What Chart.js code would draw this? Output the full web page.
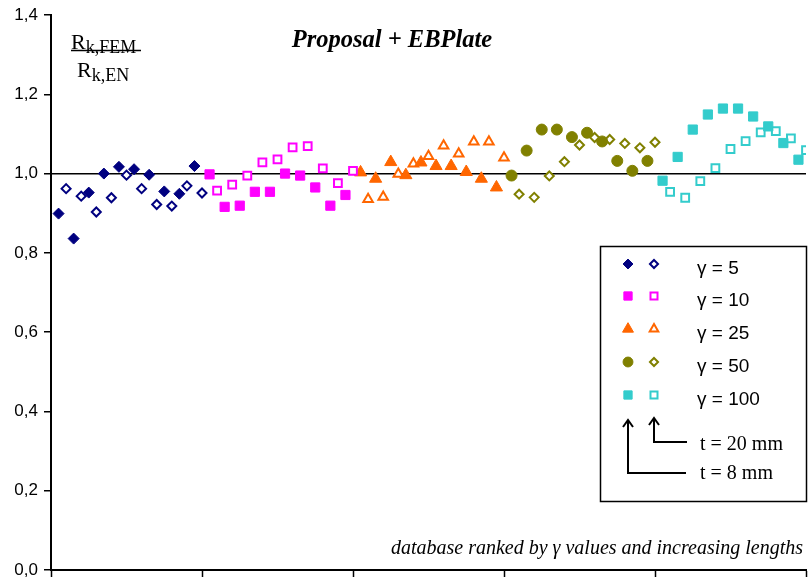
<!DOCTYPE html>
<html>
<head>
<meta charset="utf-8">
<script src="https://cdn.jsdelivr.net/npm/chart.js@4"></script>
<style>
  body { margin: 0; background: #fff; }
</style>
</head>
<body>
<canvas id="myChart" width="808" height="580"></canvas>
<script>
// gamma groups, each with 10 specimens at t = 8 mm and 10 at t = 20 mm
const gammas = [5, 10, 25, 50, 100];

const g5_t8   = [0.899, 0.836, 0.952, 1.000, 1.017, 1.011, 0.997, 0.955, 0.949, 1.019];
const g5_t20  = [0.962, 0.943, 0.903, 0.939, 0.996, 0.962, 0.922, 0.918, 0.969, 0.951];
const g10_t8  = [0.998, 0.916, 0.919, 0.954, 0.954, 1.000, 0.995, 0.965, 0.919, 0.946];
const g10_t20 = [0.957, 0.972, 0.995, 1.028, 1.036, 1.066, 1.069, 1.013, 0.976, 1.007];
const g25_t8  = [1.003, 0.987, 1.029, 0.996, 1.028, 1.019, 1.019, 1.004, 0.987, 0.965];
const g25_t20 = [0.935, 0.941, 0.999, 1.025, 1.044, 1.070, 1.050, 1.080, 1.080, 1.040];
const g50_t8  = [0.995, 1.058, 1.111, 1.111, 1.092, 1.103, 1.081, 1.032, 1.007, 1.032];
const g50_t20 = [0.948, 0.940, 0.994, 1.030, 1.072, 1.091, 1.086, 1.076, 1.065, 1.079];
const g100_t8  = [0.982, 1.042, 1.111, 1.149, 1.164, 1.164, 1.144, 1.119, 1.077, 1.035];
const g100_t20 = [0.954, 0.939, 0.981, 1.014, 1.062, 1.082, 1.104, 1.107, 1.089, 1.059];

const yTicks = [0, 0.2, 0.4, 0.6, 0.8, 1.0, 1.2, 1.4];

const t8Series  = [g5_t8, g10_t8, g25_t8, g50_t8, g100_t8];
const t20Series = [g5_t20, g10_t20, g25_t20, g50_t20, g100_t20];

// marker look per gamma group
const colors = ['#000080', '#ff00ff', '#ff6600', '#808000', '#33cccc'];
const filledStyle = [
  { pointStyle: 'rectRot', radius: 5.5 },
  { pointStyle: 'rect', radius: 6.5 },
  { pointStyle: 'triangle', radius: 7 },
  { pointStyle: 'circle', radius: 5.5 },
  { pointStyle: 'rect', radius: 6.5 }
];
const hollowStyle = [
  { pointStyle: 'rectRot', radius: 4.5 },
  { pointStyle: 'rect', radius: 5.5 },
  { pointStyle: 'triangle', radius: 5.5 },
  { pointStyle: 'rectRot', radius: 4.5 },
  { pointStyle: 'rect', radius: 5.5 }
];

// specimens are ranked: within a group t=8 and t=20 alternate
function rankPoints(values, group, offset) {
  return values.map((v, k) => ({ x: group * 20 + offset + 2 * k, y: v }));
}

const datasets = [];
gammas.forEach((g, i) => {
  datasets.push({
    label: 'γ = ' + g + ' (t = 8 mm)',
    data: rankPoints(t8Series[i], i, 1),
    pointStyle: filledStyle[i].pointStyle,
    pointRadius: filledStyle[i].radius,
    backgroundColor: colors[i],
    borderColor: colors[i],
    borderWidth: 1
  });
  datasets.push({
    label: 'γ = ' + g + ' (t = 20 mm)',
    data: rankPoints(t20Series[i], i, 2),
    pointStyle: hollowStyle[i].pointStyle,
    pointRadius: hollowStyle[i].radius,
    backgroundColor: '#ffffff',
    borderColor: colors[i],
    borderWidth: 2
  });
});

// texts and legend box drawn on top of the chart
const decorations = {
  id: 'decorations',
  afterDraw(chart) {
    const c = chart.ctx;
    c.save();
    c.fillStyle = '#000';
    c.textBaseline = 'alphabetic';

    // title
    c.font = 'bold italic 24.5px "Liberation Serif", "Times New Roman", serif';
    c.textAlign = 'center';
    c.fillText('Proposal + EBPlate', 392, 47);

    // ratio label
    c.textAlign = 'left';
    c.font = '22px "Liberation Serif", serif';
    c.fillText('R', 71, 49);
    let w = c.measureText('R').width;
    c.font = '18px "Liberation Serif", serif';
    c.fillText('k,FEM', 71 + w, 53);
    c.font = '22px "Liberation Serif", serif';
    c.fillText('R', 77, 77);
    w = c.measureText('R').width;
    c.font = '18px "Liberation Serif", serif';
    c.fillText('k,EN', 77 + w, 81);
    c.strokeStyle = '#000';
    c.lineWidth = 1.3;
    c.beginPath();
    c.moveTo(71, 50.5);
    c.lineTo(141, 50.5);
    c.stroke();

    // footnote
    c.font = 'italic 20px "Liberation Serif", serif';
    c.textAlign = 'right';
    c.fillText('database ranked by γ values and increasing lengths', 803, 554);

    // legend box
    c.fillStyle = '#fff';
    c.fillRect(600, 246, 207, 256);
    c.lineWidth = 1.5;
    c.strokeStyle = '#000';
    c.strokeRect(600.5, 246.5, 206, 255);

    const rowY = [264, 296, 329, 362, 395];
    gammas.forEach((g, i) => {
      c.fillStyle = colors[i];
      c.strokeStyle = colors[i];
      c.lineWidth = 1;
      Chart.helpers.drawPoint(c, {
        pointStyle: filledStyle[i].pointStyle,
        radius: filledStyle[i].radius * 0.9,
        rotation: 0,
        borderWidth: 1
      }, 628, rowY[i]);
      c.fillStyle = '#fff';
      c.lineWidth = 2;
      Chart.helpers.drawPoint(c, {
        pointStyle: hollowStyle[i].pointStyle,
        radius: hollowStyle[i].radius * 0.9,
        rotation: 0,
        borderWidth: 2
      }, 654, rowY[i]);
      c.fillStyle = '#000';
      c.font = '19px "Liberation Sans", Arial, sans-serif';
      c.textAlign = 'left';
      c.fillText('γ = ' + g, 697, rowY[i] + 10);
    });

    // thickness arrows
    c.strokeStyle = '#000';
    c.lineWidth = 2;
    c.beginPath();
    c.moveTo(686, 473); c.lineTo(628, 473); c.lineTo(628, 420);
    c.moveTo(623, 427); c.lineTo(628, 420); c.lineTo(633, 427);
    c.moveTo(687, 442); c.lineTo(654, 442); c.lineTo(654, 418);
    c.moveTo(649, 425); c.lineTo(654, 418); c.lineTo(659, 425);
    c.stroke();
    c.fillStyle = '#000';
    c.font = '20px "Liberation Serif", serif';
    c.fillText('t = 20 mm', 700, 450);
    c.fillText('t = 8 mm', 700, 479);

    c.restore();
  }
};

const ctx = document.getElementById('myChart').getContext('2d');
const myChart = new Chart(ctx, {
  type: 'scatter',
  data: { datasets: datasets },
  options: {
    responsive: false,
    animation: false,
    events: [],
    layout: { autoPadding: false, padding: { top: 15, right: 2, left: 0, bottom: 0 } },
    plugins: {
      legend: { display: false },
      tooltip: { enabled: false }
    },
    scales: {
      x: {
        type: 'linear',
        min: 0,
        max: 100,
        afterFit(scale) { scale.height = 10; },
        ticks: { display: false, stepSize: 20 },
        grid: {
          color: 'rgba(0,0,0,0)',
          tickColor: '#000',
          tickLength: 7,
          tickWidth: 1.5
        },
        border: { color: '#000', width: 2 }
      },
      y: {
        min: 0,
        max: 1.4,
        afterFit(scale) {
          scale.width = 51;
          scale.paddingTop = 0;
          scale.paddingBottom = 0;
        },
        afterBuildTicks(scale) {
          scale.ticks = yTicks.map(v => ({ value: v }));
        },
        ticks: {
          padding: 6,
          color: '#000',
          font: { family: '"Liberation Sans", Arial, sans-serif', size: 17 },
          callback: v => v.toFixed(1).replace('.', ',')
        },
        grid: {
          color: c => (c.tick && Math.abs(c.tick.value - 1) < 1e-6) ? '#000' : 'rgba(0,0,0,0)',
          lineWidth: 1.5,
          tickColor: '#000',
          tickLength: 7,
          tickWidth: 1.5
        },
        border: { color: '#000', width: 2 }
      }
    }
  },
  plugins: [decorations]
});
</script>
</body>
</html>
